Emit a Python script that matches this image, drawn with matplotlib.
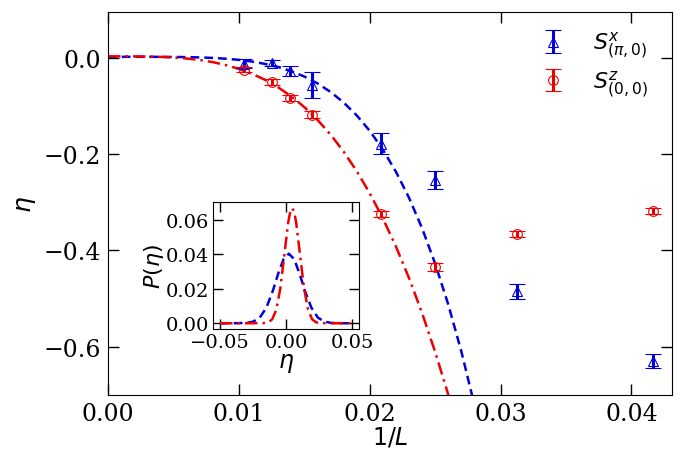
import matplotlib
matplotlib.use("Agg")
import matplotlib.pyplot as plt

# ---- data ----
inv_L = [1/96, 1/80, 1/72, 1/64, 1/48, 1/40, 1/32, 1/24]

eta_x = [-0.012, -0.011, -0.028, -0.057, -0.178, -0.254, -0.485, -0.629]
err_x = [0.010, 0.007, 0.010, 0.027, 0.021, 0.018, 0.015, 0.014]

eta_z = [-0.025, -0.050, -0.083, -0.118, -0.325, -0.434, -0.366, -0.318]
err_z = [0.005, 0.006, 0.006, 0.007, 0.006, 0.008, 0.006, 0.007]

# fit curves
fit_x_L = [0.000, 0.001, 0.002, 0.003, 0.004, 0.005, 0.006, 0.007, 0.008, 0.009,
           0.010, 0.011, 0.012, 0.013, 0.014, 0.015, 0.016, 0.017, 0.018, 0.019,
           0.020, 0.021, 0.022, 0.023, 0.024, 0.025, 0.026, 0.027, 0.028]
fit_x_eta = [0.002, 0.002, 0.002, 0.002, 0.0019, 0.0017, 0.0014, 0.0008, -0.0003, -0.0019,
             -0.0043, -0.0078, -0.0127, -0.0192, -0.0278, -0.0389, -0.0530, -0.0708, -0.0927, -0.1194,
             -0.1516, -0.1905, -0.2364, -0.2904, -0.3537, -0.4273, -0.5120, -0.6094, -0.7208]

fit_z_L = [0.000, 0.001, 0.002, 0.003, 0.004, 0.005, 0.006, 0.007, 0.008, 0.009,
           0.010, 0.011, 0.012, 0.013, 0.014, 0.015, 0.016, 0.017, 0.018, 0.019,
           0.020, 0.021, 0.022, 0.023, 0.024, 0.025, 0.026, 0.027]
fit_z_eta = [0.003, 0.003, 0.0029, 0.0026, 0.0019, 0.0006, -0.0015, -0.0046, -0.0090, -0.0151,
             -0.0230, -0.0331, -0.0457, -0.0613, -0.0800, -0.1023, -0.1286, -0.1592, -0.1946, -0.2350,
             -0.2811, -0.3332, -0.3916, -0.4570, -0.5298, -0.6106, -0.6991, -0.7973]

# inset distributions
p_x_eta = [-0.05, -0.04, -0.03, -0.025, -0.02, -0.015, -0.01, -0.006, -0.002, 0.002,
           0.006, 0.010, 0.014, 0.019, 0.024, 0.029, 0.034, 0.044, 0.05]
p_x_val = [0.0, 0.0, 0.0002, 0.0009, 0.0032, 0.0090, 0.0190, 0.0289, 0.0371, 0.0403,
           0.0371, 0.0289, 0.0190, 0.0090, 0.0032, 0.0009, 0.0002, 0.0, 0.0]

p_z_eta = [-0.05, -0.0255, -0.0175, -0.0135, -0.0105, -0.0075, -0.0045, -0.0015, 0.0015, 0.003,
           0.0045, 0.006, 0.0075, 0.0105, 0.0135, 0.0165, 0.0195, 0.0225, 0.0265, 0.0345, 0.05]
p_z_val = [0.0, 0.0, 0.00005, 0.00054, 0.00235, 0.0079, 0.0200, 0.0391, 0.0584, 0.0645,
           0.0667, 0.0645, 0.0584, 0.0391, 0.0200, 0.0079, 0.00235, 0.00054, 0.00005, 0.0, 0.0]

x_ticks = [0.00, 0.01, 0.02, 0.03, 0.04]
y_ticks = [0.0, -0.2, -0.4, -0.6]
ins_x_ticks = [-0.05, 0.00, 0.05]
ins_y_ticks = [0.00, 0.02, 0.04, 0.06]

plt.rcParams['font.family'] = 'DejaVu Serif'
plt.rcParams['mathtext.fontset'] = 'dejavusans'

fig = plt.figure(figsize=(6.81, 4.60), dpi=100)
ax = fig.add_axes([0.1586, 0.1391, 0.8282, 0.8326])

BLUE = '#0000dd'
RED = '#ee0000'

ax.plot(fit_x_L, fit_x_eta, '--', color=BLUE, lw=1.8, dashes=(3.5, 2))
ax.plot(fit_z_L, fit_z_eta, '-.', color=RED, lw=1.8, dashes=(5, 2, 1, 2))

ax.errorbar(inv_L, eta_x, yerr=err_x, fmt='^', color=BLUE, mfc='none', mec=BLUE,
            ms=7, mew=0.8, elinewidth=2.2, capsize=6, capthick=1.5,
            label=r'$S^{x}_{(\pi,0)}$')
ax.errorbar(inv_L, eta_z, yerr=err_z, fmt='o', color=RED, mfc='none', mec=RED,
            ms=7, mew=0.8, elinewidth=2.2, capsize=6, capthick=1.5,
            label=r'$S^{z}_{(0,0)}$')

ax.set_xlim(0, 0.0431)
ax.set_ylim(-0.70, 0.095)
ax.set_xticks(x_ticks)
ax.set_xticklabels(['%.2f' % v for v in x_ticks])
ax.set_yticks(y_ticks)
ax.set_yticklabels(['0.0', '\u22120.2', '\u22120.4', '\u22120.6'])
ax.tick_params(direction='in', length=8, width=1, top=True, right=True,
               labelsize=17, pad=5)
ax.set_xlabel(r'$1/L$', fontsize=17, labelpad=0)
ax.set_ylabel(r'$\eta$', fontsize=18, labelpad=4)

leg = ax.legend(loc='upper right', bbox_to_anchor=(0.984, 0.995), frameon=False,
                fontsize=16, handlelength=1.2, handletextpad=1.2,
                labelspacing=0.35, borderaxespad=0.3)

# inset
ins = fig.add_axes([0.3133, 0.2826, 0.2140, 0.2754])
ins.plot(p_x_eta, p_x_val, '--', color=BLUE, lw=1.8, dashes=(3.5, 2))
ins.plot(p_z_eta, p_z_val, '-.', color=RED, lw=1.8, dashes=(5, 2, 1, 2))
ins.set_xticks(ins_x_ticks)
ins.set_xticklabels(['\u22120.05', '0.00', '0.05'])
ins.set_yticks(ins_y_ticks)
ins.set_yticklabels(['%.2f' % v for v in ins_y_ticks])
ins.tick_params(direction='in', length=7, width=1, top=True, right=True,
                labelsize=14, pad=3)
ins.set_xlabel(r'$\eta$', fontsize=17, labelpad=0)
ins.set_ylabel(r'$P(\eta)$', fontsize=16, labelpad=0)

fig.savefig('out.png', dpi=100)
